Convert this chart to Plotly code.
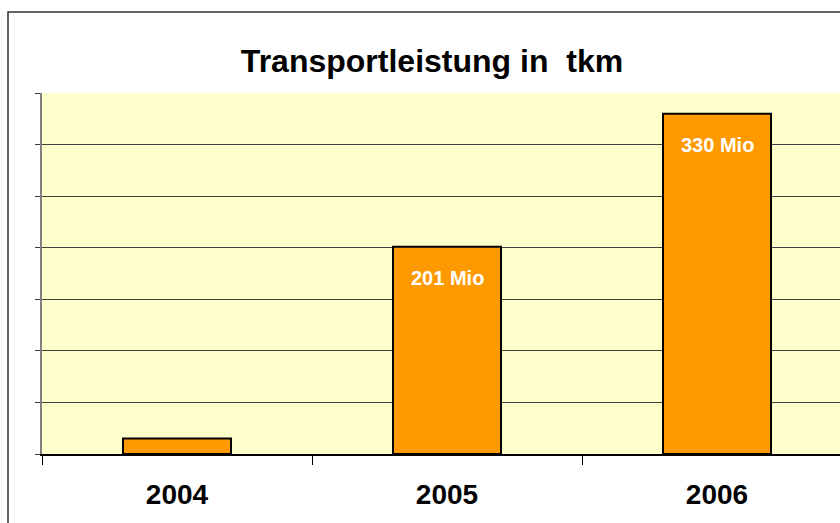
import plotly.graph_objects as go

years = ["2004", "2005", "2006"]
values_mio = [15, 201, 330]
value_labels = ["", "201 Mio", "330 Mio"]
title_text = "Transportleistung in  tkm"

W, H = 840, 523
ml, mr, mt, mb = 42, 0, 93, 69
pw = W - ml - mr
ph = H - mt - mb

fig = go.Figure()
fig.add_trace(go.Bar(
    x=years, y=values_mio, width=0.4,
    marker=dict(color="#FF9900", line=dict(color="#000000", width=2)),
    hoverinfo="skip",
))

for i, (v, lab) in enumerate(zip(values_mio, value_labels)):
    if lab:
        fig.add_annotation(
            x=i, y=v, xref="x", yref="y", text=lab, showarrow=False,
            yanchor="middle", yshift=-31,
            font=dict(family="Liberation Sans, Arial", size=20, color="#FFFFFF", weight="bold"),
        )

# outer chart frame
fig.add_shape(
    type="rect", xref="paper", yref="paper",
    x0=(8 - ml) / pw, x1=1.2, y0=-0.5, y1=(H - mb - 12) / ph,
    line=dict(color="#333333", width=1.5), fillcolor="rgba(0,0,0,0)", layer="below",
)

fig.update_layout(
    width=W, height=H, autosize=False,
    margin=dict(l=ml, r=mr, t=mt, b=mb, pad=0),
    paper_bgcolor="#FFFFFF", plot_bgcolor="#FFFFCC",
    showlegend=False,
    title=dict(
        text=title_text,
        font=dict(family="Liberation Sans, Arial", size=32, color="#000000", weight="bold"),
        x=(432 - ml) / pw, xref="paper", xanchor="center",
        y=1 - 61 / H, yref="container", yanchor="middle",
    ),
    font=dict(family="Liberation Sans, Arial", color="#000000"),
)

fig.update_xaxes(
    type="category", range=[-0.5, -0.5 + pw / 270],
    showline=True, linecolor="#000000", linewidth=1.5,
    ticks="outside", tickson="boundaries", ticklen=9, tickcolor="#000000", tickwidth=1,
    tickfont=dict(family="Liberation Sans, Arial", size=28, color="#000000", weight="bold"),
    ticklabelstandoff=15,
    showgrid=False, zeroline=False,
)
fig.update_yaxes(
    range=[0, 350], dtick=50, tick0=0,
    showline=True, linecolor="#808080", linewidth=1.5,
    ticks="outside", ticklen=5, tickcolor="#404040",
    showticklabels=False,
    showgrid=True, gridcolor="#404040", gridwidth=1,
    zeroline=False,
)

fig.write_html("out.html", config={"displayModeBar": False},
               post_script="document.body.style.margin='0';")
